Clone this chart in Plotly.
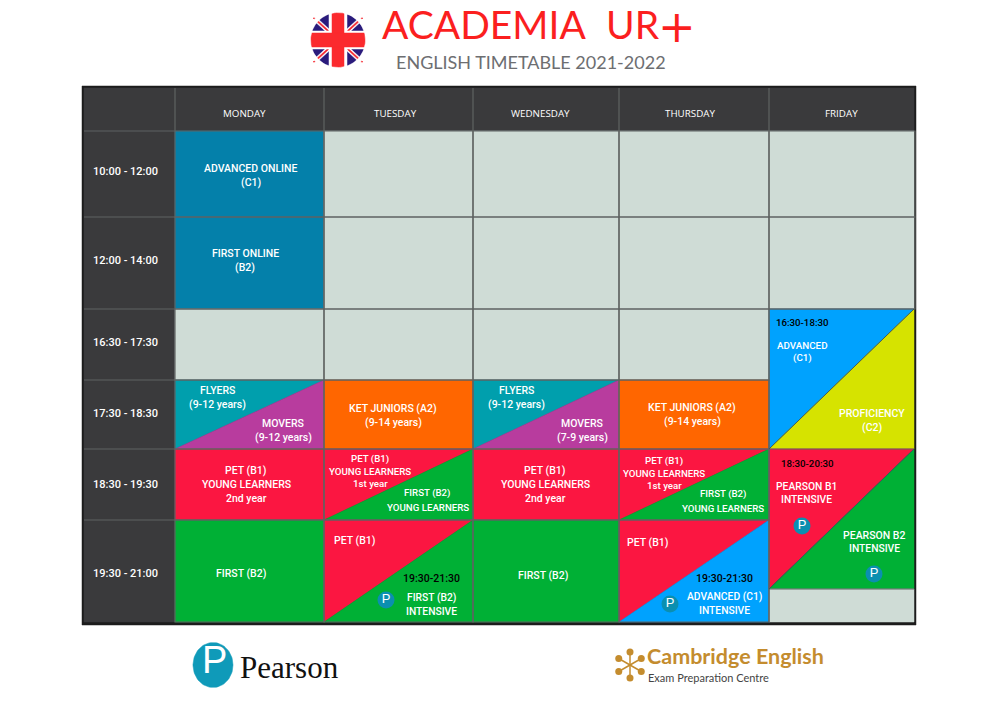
# English timetable drawn on a page-sized axis (1 unit = 1 px)

import numpy as np
import plotly.graph_objects as go

# timetable content

days = ["MONDAY", "TUESDAY", "WEDNESDAY", "THURSDAY", "FRIDAY"]
time_slots = ["10:00 - 12:00", "12:00 - 14:00", "16:30 - 17:30", "17:30 - 18:30", "18:30 - 19:30", "19:30 - 21:00"]

# one entry per block, "a|b" is a block split along its diagonal
monday = ["online", "online", "free", "teal|purple", "red", "green"]
tuesday = ["free", "free", "free", "orange", "red|green", "red|green"]
wednesday = ["free", "free", "free", "teal|purple", "red", "green"]
thursday = ["free", "free", "free", "orange", "red|green", "red|blue"]
friday = ["free", "free", "blue|yellow", "red|green", "free"]

course_labels = [
    "ADVANCED ONLINE", "(C1)", "FIRST ONLINE", "(B2)", "FLYERS", "(9-12 years)", "MOVERS", "(9-12 years)",
    "PET (B1)", "YOUNG LEARNERS", "2nd year", "FIRST (B2)",
    "KET JUNIORS (A2)", "(9-14 years)", "PET (B1)", "YOUNG LEARNERS", "1st year", "FIRST (B2)", "YOUNG LEARNERS",
    "PET (B1)", "FIRST (B2)", "INTENSIVE",
    "FLYERS", "(9-12 years)", "MOVERS", "(7-9 years)", "PET (B1)", "YOUNG LEARNERS", "2nd year", "FIRST (B2)",
    "KET JUNIORS (A2)", "(9-14 years)", "PET (B1)", "YOUNG LEARNERS", "1st year", "FIRST (B2)", "YOUNG LEARNERS",
    "PET (B1)", "ADVANCED (C1)", "INTENSIVE",
    "ADVANCED", "(C1)", "PROFICIENCY", "(C2)", "PEARSON B1", "INTENSIVE", "PEARSON B2", "INTENSIVE",
]
special_hours = ["19:30-21:30", "19:30-21:30", "16:30-18:30", "18:30-20:30"]

# page layout, kept apart from the content above

col_edges = [82, 175, 324, 473, 619, 769, 915]
row_edges = [88, 131, 217, 309, 380, 449, 520, 622]
friday_edges = [131, 217, 309, 449, 589, 622]

# x, y, font size of each course label
course_label_pos = [
    (251, 168, 10.5), (251, 182, 10.5), (245, 253, 10.5), (245, 267, 10.5),
    (217, 390, 10.5), (217, 404, 10.5), (283, 423, 10.5), (283, 437, 10.5),
    (246, 470, 10.5), (246, 484, 10.5), (246, 498, 10.5), (241, 573, 10.5),
    (393, 408, 10.5), (393, 422, 10.5), (370, 459, 9.7), (370, 471, 9.7), (370, 483, 9.7),
    (427.5, 493, 9.7), (427.5, 507, 9.7),
    (355, 540, 10.5), (431, 597, 10.3), (431, 611, 10.3),
    (516, 390, 10.5), (516, 404, 10.5), (582, 423, 10.5), (582, 437, 10.5),
    (545, 470, 10.5), (545, 484, 10.5), (545, 498, 10.5), (543, 575, 10.5),
    (692, 407, 10.5), (692, 421, 10.5), (664, 461, 9.7), (664, 473, 9.7), (664, 485, 9.7),
    (723, 494, 9.7), (723, 508, 9.7),
    (648, 542, 10.5), (724, 596, 10.3), (724, 610, 10.3),
    (802, 345, 9.8), (802, 357.5, 9.8), (872, 413, 10.5), (872, 427, 10.5),
    (806, 486.5, 10.3), (806, 499, 10.3), (874, 535, 10.5), (874, 548, 10.3),
]
special_hours_pos = [(431, 578, 10.5), (724, 578, 10.5), (802, 322, 9.7), (807, 463, 9.7)]
day_label_x = [244, 395, 540.5, 690, 841]
slot_label_y = [171, 260, 342, 413, 484, 573]
badge_pos = [(386, 600), (670, 604), (802, 526), (874, 574)]

colors = {
    "free": "#cfdcd6", "online": "#0480aa", "teal": "#009fad", "purple": "#b83c9e", "orange": "#ff6600",
    "red": "#fb1641", "green": "#00b035", "blue": "#00a2fe", "yellow": "#d6e300",
}
dark = "#3a3a3c"
grid = "#5f6362"
pearson_blue = "#0b8fb0"
gold = "#c48c2e"

fig = go.Figure()


def polygon(xs, ys, color, line=None, width=1):
    fig.add_trace(go.Scatter(
        x=xs, y=ys, mode="lines", fill="toself", fillcolor=color,
        line=dict(color=line or color, width=width if line else 0.5), hoverinfo="skip", showlegend=False,
    ))


def label(text, x, y, size=11, color="white", family="Roboto", weight=500):
    fig.add_annotation(
        x=x, y=y, text=text, showarrow=False, xanchor="center", yanchor="middle",
        font=dict(family=family, size=size, color=color, weight=weight),
    )


def draw_block(x0, x1, y0, y1, name):
    if "|" in name:
        upper, lower = name.split("|")
        polygon([x0, x1, x0, x0], [y0, y0, y1, y0], colors[upper])
        polygon([x1, x1, x0, x1], [y0, y1, y1, y0], colors[lower])
    else:
        polygon([x0, x1, x1, x0, x0], [y0, y0, y1, y1, y0], colors[name])


# frame, header and time column

polygon([82, 916, 916, 82, 82], [86, 86, 625, 625, 86], "#1c1c1c")
polygon([84, 914, 914, 84, 84], [88, 88, 131, 131, 88], dark)
polygon([84, 175, 175, 84, 84], [131, 131, 622, 622, 131], dark)

# timetable blocks

for c, column in enumerate([monday, tuesday, wednesday, thursday]):
    for r, name in enumerate(column):
        draw_block(col_edges[c + 1], col_edges[c + 2], row_edges[r + 1], row_edges[r + 2], name)
for r, name in enumerate(friday):
    draw_block(col_edges[5], col_edges[6] - 1, friday_edges[r], friday_edges[r + 1], name)

# grid lines

grid_x, grid_y = [], []
for c in range(5):
    for r in range(6):
        if c == 4 and r >= 2:
            continue
        x0, x1, y0, y1 = col_edges[c + 1], col_edges[c + 2], row_edges[r + 1], row_edges[r + 2]
        grid_x += [x0, x1, x1, x0, x0, None]
        grid_y += [y0, y0, y1, y1, y0, None]
for edge in col_edges[1:6]:
    grid_x += [edge, edge, None]
    grid_y += [88, 131, None]
for edge in row_edges[1:7]:
    grid_x += [84, 175, None]
    grid_y += [edge, edge, None]
for edge in friday_edges[2:5]:
    grid_x += [769, 914, None]
    grid_y += [edge, edge, None]
grid_x += [769, 769, None]
grid_y += [309, 622, None]
fig.add_trace(go.Scatter(x=grid_x, y=grid_y, mode="lines", line=dict(color=grid, width=1.2),
                         hoverinfo="skip", showlegend=False))

# diagonals of the Friday blocks are a little darker than the others
fig.add_trace(go.Scatter(x=[769, 914, None, 769, 914], y=[449, 309, None, 589, 449], mode="lines",
                         line=dict(color="#3c5a5a", width=1), hoverinfo="skip", showlegend=False))

# union flag

fx, fy, fr = 338, 40, 27.5
theta = np.linspace(0, 2 * np.pi, 90)
polygon(fx + fr * np.cos(theta), fy + fr * np.sin(theta), "#2a1b7c")
for sign in (1, -1):
    polygon([fx - 27, fx - 21, fx + 27, fx + 21, fx - 27],
            [fy - sign * 22, fy - sign * 22, fy + sign * 22, fy + sign * 22, fy - sign * 22], "white")
    polygon([fx - 25, fx - 23, fx + 25, fx + 23, fx - 25],
            [fy - sign * 22, fy - sign * 22, fy + sign * 22, fy + sign * 22, fy - sign * 22], "#f5242c")
polygon([fx - 9, fx + 9, fx + 9, fx - 9, fx - 9], [fy - 29, fy - 29, fy + 29, fy + 29, fy - 29], "white")
polygon([fx - 29, fx + 29, fx + 29, fx - 29, fx - 29], [fy - 9, fy - 9, fy + 9, fy + 9, fy - 9], "white")
polygon([fx - 6, fx + 6, fx + 6, fx - 6, fx - 6], [fy - 29, fy - 29, fy + 29, fy + 29, fy - 29], "#fb2a2e")
polygon([fx - 29, fx + 29, fx + 29, fx - 29, fx - 29], [fy - 7, fy - 7, fy + 7, fy + 7, fy - 7], "#fb2a2e")
ring_x = np.concatenate([(fr + 4) * np.cos(theta), fr * np.cos(theta[::-1])]) + fx
ring_y = np.concatenate([(fr + 4) * np.sin(theta), fr * np.sin(theta[::-1])]) + fy
polygon(ring_x, ring_y, "white")

# Pearson badges inside the timetable

fig.add_trace(go.Scatter(
    x=[p[0] for p in badge_pos], y=[p[1] for p in badge_pos], mode="markers+text",
    marker=dict(size=17, color=pearson_blue), text=["P"] * 4, textposition="middle center",
    textfont=dict(family="Liberation Sans", size=13, color="white", weight=400),
    hoverinfo="skip", showlegend=False,
))

# Pearson logo

polygon(213 + 20 * np.cos(theta), 665 + 22.5 * np.sin(theta), "#0f9ab9")

# Cambridge mark, six dots around a centre

mark_x, mark_y = 630, 665
spoke_angles = np.radians([30, 90, 150, 210, 270, 330])
spoke_x, spoke_y = [], []
for a in spoke_angles:
    spoke_x += [mark_x, mark_x + 12 * np.cos(a), None]
    spoke_y += [mark_y, mark_y + 12 * np.sin(a), None]
fig.add_trace(go.Scatter(x=spoke_x, y=spoke_y, mode="lines", line=dict(color=gold, width=1.5),
                         hoverinfo="skip", showlegend=False))
fig.add_trace(go.Scatter(x=mark_x + 13 * np.cos(spoke_angles), y=mark_y + 13 * np.sin(spoke_angles), mode="markers",
                         marker=dict(size=7, color=gold), hoverinfo="skip", showlegend=False))

# texts

label("ACADEMIA", 483.5, 24, size=39, color="#fb1f1f", family="Lato", weight=400)
label("UR", 633, 24, size=39, color="#fb1f1f", family="Lato", weight=400)
label("+", 677, 26, size=45, color="#fb1f1f", family="DejaVu Sans", weight=400)
label("ENGLISH TIMETABLE 2021-2022", 531, 62, size=18, color="#6d6e71", family="Lato", weight=400)

for name, x in zip(days, day_label_x):
    label(name, x, 113, size=9.8, family="Open Sans", weight=400)
for name, y in zip(time_slots, slot_label_y):
    label(name, 125.5, y, size=11, family="Roboto", weight=500)
for name, (x, y, size) in zip(course_labels, course_label_pos):
    label(name, x, y, size=size)
for name, (x, y, size) in zip(special_hours, special_hours_pos):
    label(name, x, y, size=size, color="black")

label("P", 214, 660, size=38, family="Liberation Sans", weight=400)
label("Pearson", 289, 667, size=31, color="#111111", family="Liberation Serif", weight=400)
label("Cambridge English", 735.5, 656, size=21.5, color=gold, family="Lato", weight=700)
label("Exam Preparation Centre", 708, 677, size=11, color="#444444", family="Lato", weight=400)

fig.update_layout(
    width=998, height=703, margin=dict(l=0, r=0, t=0, b=0), showlegend=False,
    paper_bgcolor="white", plot_bgcolor="white",
    xaxis=dict(range=[0, 998], visible=False, fixedrange=True),
    yaxis=dict(range=[703, 0], visible=False, fixedrange=True),
)

fig.write_html("out.html", post_script="document.body.style.margin='0';", config={"displayModeBar": False})
